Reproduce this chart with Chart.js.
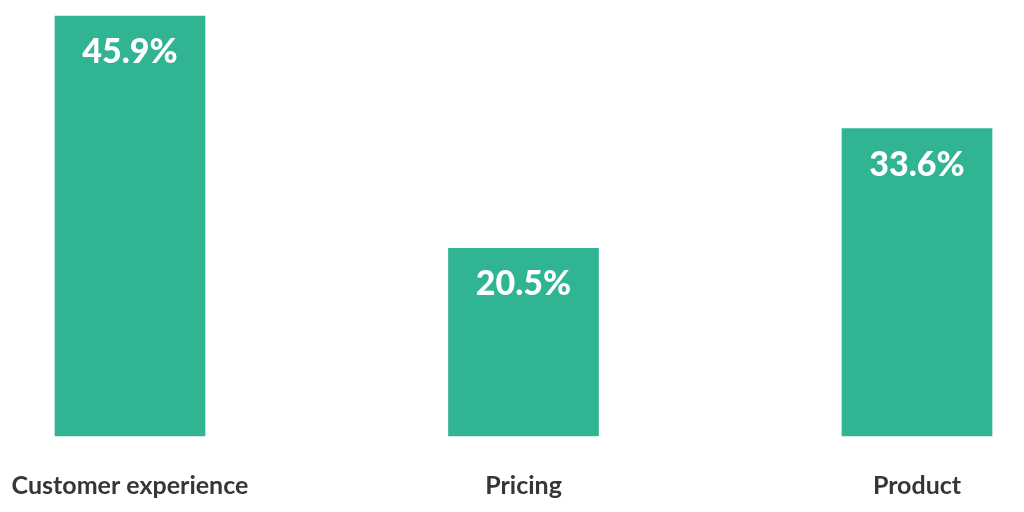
<!DOCTYPE html>
<html><head><meta charset="utf-8">
<script src="https://cdn.jsdelivr.net/npm/chart.js@4.4.1/dist/chart.umd.min.js"></script>
<style>html,body{margin:0;padding:0;background:#fff}#w{width:1024px;height:512px}</style>
</head><body><div id="w"><canvas id="c"></canvas></div>
<script>
const categories = ["Customer experience", "Pricing", "Product"];
const values = [45.9, 20.5, 33.6];
const valueLabels = ["45.9%", "20.5%", "33.6%"];

const labelPlugin = {
  id: 'valueLabels',
  afterDatasetsDraw(chart) {
    const ctx = chart.ctx;
    const meta = chart.getDatasetMeta(0);
    ctx.save();
    ctx.fillStyle = '#ffffff';
    ctx.font = '900 34px Lato';
    ctx.textAlign = 'center';
    ctx.textBaseline = 'middle';
    meta.data.forEach((bar, i) => {
      ctx.fillText(valueLabels[i], bar.x, bar.y + 36);
    });
    ctx.restore();
  }
};

new Chart(document.getElementById('c'), {
  type: 'bar',
  data: {
    labels: categories,
    datasets: [{
      data: values,
      backgroundColor: '#30b494',
      barThickness: 150,
      clip: false
    }]
  },
  options: {
    responsive: true,
    maintainAspectRatio: false,
    animation: false,
    layout: { padding: { left: 130, right: 107, top: 16, bottom: 0 } },
    plugins: { legend: { display: false }, tooltip: { enabled: false } },
    scales: {
      x: {
        offset: false,
        grid: { display: false },
        border: { display: false },
        afterFit: (scale) => { scale.height = 76; scale.paddingLeft = 0; scale.paddingRight = 0; },
        ticks: { color: '#363636', font: { family: 'Lato', size: 25, weight: 'bold' }, padding: 27, maxRotation: 0, autoSkip: false }
      },
      y: { display: false, min: 0, max: Math.max(...values) }
    }
  },
  plugins: [labelPlugin]
});
</script></body></html>
